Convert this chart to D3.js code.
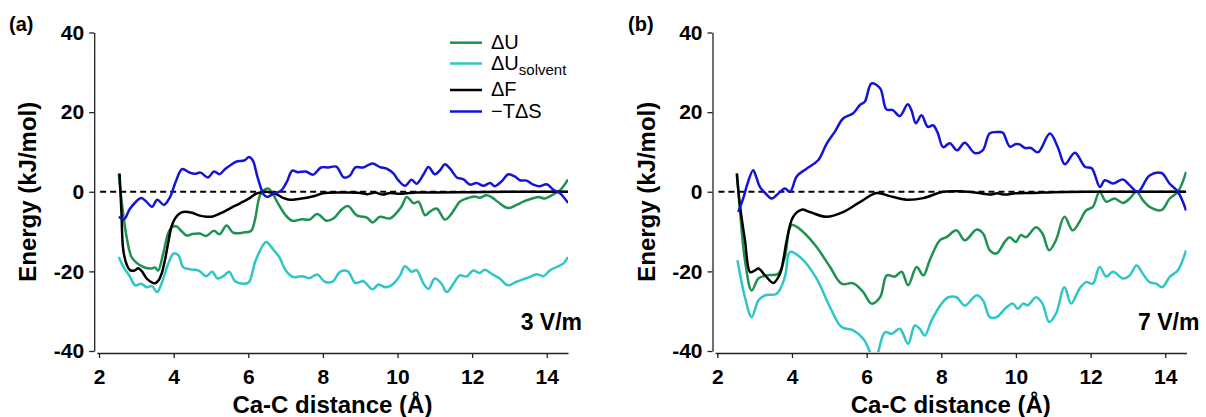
<!DOCTYPE html>
<html>
<head>
<meta charset="utf-8">
<script src="https://cdn.jsdelivr.net/npm/d3@7"></script>
<style>
  body { margin: 0; background: #fff; }
  svg { display: block; font-family: "Liberation Sans", Arial, Helvetica, sans-serif; }
</style>
</head>
<body>
<svg id="chart" width="1206" height="417"></svg>
<script>
// ---- data: [distance (A), energy (kJ/mol)] ----
var dU_a = [[2.53,4.5],[2.6,-2],[2.74,-11.4],[2.87,-16.4],[3.0,-17.8],[3.19,-18.9],[3.41,-19.3],[3.5,-19],[3.58,-19.8],[3.72,-15.5],[3.85,-10.5],[3.95,-8.9],[4.08,-8.7],[4.2,-9.8],[4.35,-11],[4.5,-10.6],[4.7,-10.5],[4.87,-11.1],[5.08,-9.8],[5.23,-10.7],[5.42,-8.5],[5.6,-10.3],[5.9,-10.2],[6.08,-9.8],[6.18,-7],[6.32,-0.8],[6.47,0.7],[6.54,0.8],[6.64,-0.2],[6.8,-3],[7.0,-5.9],[7.18,-7.3],[7.44,-6.9],[7.64,-7],[7.85,-5.6],[8.1,-7.3],[8.3,-6.6],[8.51,-4.4],[8.67,-3.6],[8.92,-6],[9.18,-6.5],[9.33,-7.7],[9.53,-6.3],[9.8,-6.7],[10.1,-3.8],[10.25,-1.3],[10.43,-2.9],[10.56,-2.5],[10.74,-5.9],[10.87,-5],[11.05,-4.2],[11.27,-7],[11.45,-5.5],[11.67,-2.5],[11.85,-1.7],[12.07,-1.2],[12.2,-1.5],[12.38,-0.9],[12.51,-1.3],[12.74,-2.9],[12.96,-4.1],[13.19,-3.3],[13.37,-2.5],[13.55,-1.9],[13.77,-1.3],[13.95,-1.7],[14.13,-0.9],[14.36,0.4],[14.57,3.1]];
var dUsolv_a = [[2.53,-16.4],[2.66,-19],[2.82,-21.2],[2.97,-23.5],[3.13,-23.1],[3.28,-24],[3.42,-23.7],[3.56,-25.2],[3.7,-22.4],[3.85,-18.2],[4.0,-15.5],[4.13,-16],[4.26,-19],[4.46,-19.5],[4.67,-19.8],[4.87,-21.2],[5.03,-20.1],[5.18,-21.8],[5.33,-21.2],[5.49,-20.1],[5.64,-22.4],[5.9,-23.1],[6.02,-22.7],[6.2,-17.2],[6.48,-12.6],[6.65,-14.3],[6.83,-16.4],[7.0,-19.7],[7.2,-21.4],[7.44,-21.2],[7.64,-21.7],[7.85,-20.8],[8.05,-22.6],[8.26,-22.6],[8.46,-20.1],[8.67,-20],[8.87,-22.9],[9.08,-22.5],[9.33,-24.5],[9.49,-23.3],[9.69,-24],[9.89,-23.1],[10.07,-21],[10.2,-18.7],[10.38,-20.1],[10.51,-19.7],[10.7,-23.1],[10.83,-24.4],[11.0,-21.8],[11.18,-23.1],[11.32,-25.2],[11.5,-23.1],[11.67,-21],[11.85,-21.3],[12.03,-19.8],[12.2,-20.4],[12.34,-19.6],[12.52,-20.6],[12.74,-21.8],[12.96,-23.5],[13.19,-22.6],[13.37,-22],[13.55,-21.4],[13.73,-20.7],[13.91,-21.2],[14.09,-19.7],[14.27,-18.9],[14.45,-18],[14.57,-16.4]];
var dF_a = [[2.55,4.6],[2.6,-5],[2.65,-14.7],[2.75,-18.5],[2.83,-19.7],[2.95,-19.8],[3.05,-19.2],[3.15,-20],[3.28,-21.8],[3.5,-23],[3.6,-22.2],[3.68,-20.5],[3.77,-17],[3.85,-13],[3.95,-8.5],[4.04,-6.7],[4.15,-5.5],[4.25,-5.1],[4.46,-5.2],[4.7,-6],[4.89,-6.3],[5.05,-6.2],[5.33,-5.1],[5.55,-4],[5.78,-2.9],[6.0,-1.8],[6.23,-0.4],[6.5,0],[6.75,-0.6],[6.95,-1.6],[7.12,-2],[7.35,-1.8],[7.57,-1.5],[7.8,-1],[8.0,-0.4],[8.5,-0.2],[9.0,-0.3],[9.2,-0.6],[9.4,-0.2],[9.6,-0.7],[9.8,-0.3],[10.0,-0.5],[10.5,-0.2],[11.0,-0.2],[12.0,-0.1],[13.0,0],[14.0,0],[14.57,0]];
var mTdS_a = [[2.53,-6.3],[2.67,-6.9],[2.82,-4.4],[2.97,-2.7],[3.13,-1.6],[3.28,-2.6],[3.42,-3.8],[3.56,-2],[3.74,-3.3],[3.9,-1.4],[4.05,2.4],[4.23,5.7],[4.41,4.9],[4.56,4.5],[4.72,4.8],[4.92,3.6],[5.08,5.1],[5.23,4.4],[5.38,5.7],[5.54,6.8],[5.69,7.6],[5.9,7.9],[6.02,8.7],[6.12,7.9],[6.25,3.6],[6.41,-0.6],[6.51,-1.3],[6.67,-0.5],[6.87,0.2],[7.03,2.4],[7.18,5.3],[7.33,4.9],[7.54,5.1],[7.74,4.3],[7.95,6.1],[8.15,6.1],[8.36,6.3],[8.56,3.6],[8.72,4],[8.87,6.1],[9.08,6.1],[9.33,7.1],[9.53,6.2],[9.71,5.8],[9.89,4.6],[10.02,2.9],[10.2,1.5],[10.38,3],[10.51,2],[10.7,4.4],[10.83,6.2],[11.0,4.4],[11.14,5.4],[11.27,6.9],[11.41,5.8],[11.59,3.6],[11.77,3.1],[11.94,1.8],[12.12,2.2],[12.3,1.5],[12.48,2.2],[12.61,1.4],[12.79,2.6],[12.97,4.4],[13.15,3.8],[13.28,2.9],[13.46,2.8],[13.64,1.8],[13.82,1.4],[14.0,1.9],[14.18,0.5],[14.36,-0.4],[14.57,-2.8]];

var dU_b = [[2.53,4.5],[2.6,-4],[2.74,-17.2],[2.92,-24.8],[3.1,-21.8],[3.32,-21],[3.63,-20.6],[3.81,-16.4],[3.99,-8.4],[4.3,-10.1],[4.66,-13.9],[5.02,-18.9],[5.33,-23.1],[5.64,-23],[5.91,-25.2],[6.13,-28.1],[6.36,-26.5],[6.54,-21],[6.76,-21.3],[6.94,-20.1],[7.11,-23.5],[7.34,-18.9],[7.52,-21],[7.69,-17.2],[7.96,-12.2],[8.14,-11.4],[8.41,-9.7],[8.63,-12.2],[8.95,-9.5],[9.12,-10.5],[9.3,-14.7],[9.48,-15.5],[9.7,-12.6],[9.83,-11.4],[10.0,-12.6],[10.13,-10.9],[10.27,-11.4],[10.54,-8.9],[10.71,-10.5],[10.89,-14.7],[11.07,-12.2],[11.3,-6.3],[11.52,-9.7],[11.7,-7.6],[11.88,-4.7],[12.06,-3.8],[12.24,0],[12.42,-2.5],[12.64,-1.7],[12.87,-2.8],[13.05,-1.7],[13.23,0],[13.4,-2.1],[13.58,-3.8],[13.9,-4.6],[14.12,-1.7],[14.34,0],[14.56,5]];
var dUsolv_b = [[2.54,-17.2],[2.74,-26.5],[2.92,-31.5],[3.1,-27.3],[3.28,-26],[3.59,-25.6],[3.81,-21.4],[3.95,-15.1],[4.26,-16.8],[4.66,-21.8],[5.02,-29],[5.33,-34],[5.64,-34.8],[5.91,-36.9],[6.09,-40.3],[6.2,-44],[6.31,-40.3],[6.49,-35.3],[6.67,-35.7],[6.89,-34.4],[7.11,-38.2],[7.29,-33.6],[7.42,-34.4],[7.56,-36.1],[7.74,-32.3],[8.01,-28.1],[8.19,-26.5],[8.41,-26.5],[8.63,-28.6],[8.95,-26],[9.12,-27.3],[9.3,-31.5],[9.48,-31.5],[9.75,-29],[9.92,-28.1],[10.05,-29.4],[10.19,-28.1],[10.32,-28.5],[10.54,-26.5],[10.71,-28.1],[10.89,-32.7],[11.07,-30.7],[11.3,-24],[11.48,-28.1],[11.7,-24.4],[11.88,-22.7],[12.06,-23.1],[12.24,-18.9],[12.42,-21.3],[12.6,-20.1],[12.87,-21.8],[13.05,-21],[13.23,-18.5],[13.4,-20.6],[13.58,-22.7],[13.76,-23.1],[13.92,-24],[14.12,-21.4],[14.34,-19.7],[14.56,-14.7]];
var dF_b = [[2.52,4.6],[2.6,-3],[2.74,-12.2],[2.88,-20.2],[3.0,-19.8],[3.1,-19.3],[3.28,-21],[3.5,-22.9],[3.68,-20.6],[3.77,-17],[3.86,-12.2],[4.03,-6.3],[4.26,-4.5],[4.48,-5.1],[4.93,-6.3],[5.37,-5.1],[5.82,-2.6],[6.27,-0.3],[6.62,-1.1],[7.07,-2],[7.52,-1.6],[8.05,0],[8.5,0.1],[9.0,-0.3],[9.3,-0.7],[9.5,-0.4],[9.7,-0.7],[10.0,-0.4],[10.5,-0.3],[11.0,-0.1],[12.0,0],[13.0,0],[14.0,0],[14.56,0]];
var mTdS_b = [[2.56,-5.1],[2.7,-1.5],[2.8,1.8],[2.96,5.4],[3.05,3.5],[3.14,1.2],[3.3,-0.5],[3.46,-1.7],[3.65,-0.3],[3.81,0.8],[3.95,0],[4.13,3.9],[4.39,5.8],[4.7,7.9],[4.93,12.1],[5.15,15.1],[5.37,18.4],[5.64,19.7],[5.82,21.8],[5.95,22.6],[6.13,27.2],[6.36,26],[6.53,20.7],[6.7,20.5],[6.89,19],[7.1,22],[7.2,20.5],[7.32,17.2],[7.47,19.2],[7.64,16.3],[7.78,16.7],[7.9,14.9],[8.05,11.2],[8.23,12.2],[8.42,10.4],[8.63,12.3],[8.9,9.7],[9.11,10.4],[9.3,14.7],[9.55,15],[9.65,14.8],[9.84,11.3],[10.0,12],[10.1,11.9],[10.24,11],[10.4,11],[10.59,9.9],[10.91,14.6],[11.13,11],[11.31,6.9],[11.58,9.8],[11.85,6.3],[12.03,5.9],[12.25,1.2],[12.38,2.9],[12.6,2.1],[12.87,3.1],[13.05,1.6],[13.27,0],[13.58,4.1],[13.9,4.7],[14.12,2],[14.34,0],[14.56,-4.7]];

var seriesNames = ["\u0394U", "\u0394U", "\u0394F", "\u2212T\u0394S"];
var seriesColors = ["#1f9150", "#2ec6c6", "#000000", "#1414d8"];
var panelLabels = ["(a)", "(b)"];
var fieldLabels = ["3 V/m", "7 V/m"];
var xTicks = [2, 4, 6, 8, 10, 12, 14];
var yTicks = [-40, -20, 0, 20, 40];

var panels = [
  {ind: 0, x0: 96.8, x1: 568.0, lines: [dU_a, dUsolv_a, dF_a, mTdS_a]},
  {ind: 1, x0: 715.1, x1: 1186.5, lines: [dU_b, dUsolv_b, dF_b, mTdS_b]}
];

var svg = d3.select("#chart");
var fontAxis = "21px";

panels.forEach(function(p){
  var x = d3.scaleLinear().domain([1.94, 14.57]).range([p.x0, p.x1]);
  var y = d3.scaleLinear().domain([-40, 40]).range([351, 32.5]);
  var yAxisX = p.x0 - 2.6;

  var g = svg.append("g").attr("id", "group_" + p.ind);

  g.append("clipPath").attr("id", "clip" + p.ind)
    .append("rect")
    .attr("x", p.x0).attr("y", y(40) - 2)
    .attr("width", p.x1 - p.x0).attr("height", y(-40) - y(40) + 3);

  // y axis (plain hyphen for negatives, like the original)
  var yAxis = d3.axisLeft(y).tickValues(yTicks).tickSize(5).tickSizeOuter(0).tickPadding(5)
    .tickFormat(function(d){ return String(d); });
  var ya = g.append("g")
    .attr("transform", "translate(" + yAxisX + ",0)")
    .call(yAxis);
  ya.selectAll("text")
    .style("font-size", fontAxis).style("font-weight", "bold").style("fill", "#000");

  // x axis
  var xAxis = d3.axisBottom(x).tickValues(xTicks).tickSize(5).tickSizeOuter(0).tickPadding(11);
  var xa = g.append("g")
    .attr("transform", "translate(0,353)")
    .call(xAxis);
  xa.selectAll("text")
    .style("font-size", fontAxis).style("font-weight", "bold").style("fill", "#000");

  g.selectAll(".domain, .tick line").attr("stroke", "#222").attr("stroke-width", 1.3);

  // zero line
  g.append("line")
    .attr("x1", x(2.03)).attr("x2", x(14.57))
    .attr("y1", y(0)).attr("y2", y(0))
    .attr("stroke", "#000").attr("stroke-width", 2.2)
    .attr("stroke-dasharray", "6,4");

  var line = d3.line()
    .x(function(d){ return x(d[0]); })
    .y(function(d){ return y(d[1]); })
    .curve(d3.curveCatmullRom.alpha(0.5));

  var plot = g.append("g").attr("clip-path", "url(#clip" + p.ind + ")");
  plot.selectAll("path.series")
    .data(p.lines)
    .enter()
    .append("path")
    .attr("class", "series")
    .attr("d", line)
    .attr("fill", "none")
    .attr("stroke", function(d, i){ return seriesColors[i]; })
    .attr("stroke-width", 2.5)
    .attr("stroke-linejoin", "round");

  // axis titles
  g.append("text")
    .attr("x", (p.x0 + p.x1) / 2).attr("y", 413)
    .style("text-anchor", "middle").style("font-size", "24px").style("font-weight", "bold")
    .text("Ca-C distance (\u00c5)");

  g.append("text")
    .attr("transform", "translate(" + (yAxisX - 58) + "," + y(0) + ") rotate(-90)")
    .style("text-anchor", "middle").style("font-size", "24px").style("font-weight", "bold")
    .text("Energy (kJ/mol)");

  g.append("text")
    .attr("x", p.ind == 0 ? 9 : 628).attr("y", 31)
    .style("font-size", "20px").style("font-weight", "bold")
    .text(panelLabels[p.ind]);

  var fl = g.append("text")
    .attr("y", 330)
    .style("font-size", "23px").style("font-weight", "bold")
    .text(fieldLabels[p.ind]);
  if(p.ind == 0){
    fl.attr("x", 582).style("text-anchor", "end");
  } else {
    fl.attr("x", 1138).style("text-anchor", "start");
  }
});

// legend (panel a only)
var legY = [42.7, 63.5, 90, 111.5];
var leg = svg.append("g").attr("class", "legend");
seriesNames.forEach(function(name, i){
  leg.append("line")
    .attr("x1", 450).attr("x2", 482)
    .attr("y1", legY[i]).attr("y2", legY[i])
    .attr("stroke", seriesColors[i]).attr("stroke-width", 2.5);
  var t = leg.append("text")
    .attr("x", 491).attr("y", legY[i] + 6)
    .style("font-size", "20px")
    .text(name);
  if(i == 1){
    t.append("tspan")
      .attr("dy", 5)
      .style("font-size", "15px")
      .text("solvent");
  }
});
</script>
</body>
</html>
